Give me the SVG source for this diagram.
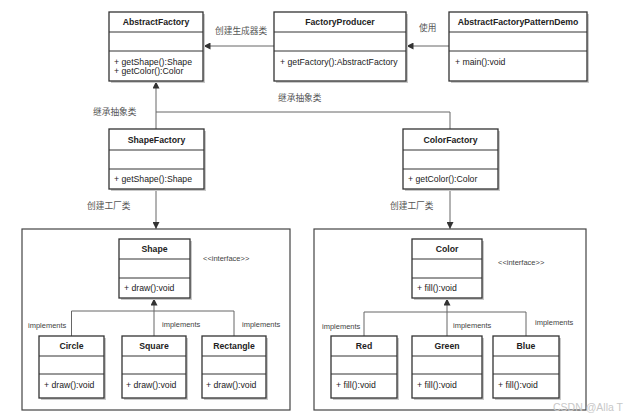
<svg xmlns="http://www.w3.org/2000/svg" width="630" height="418" viewBox="0 0 630 418">
<defs>
<style>
.bx{fill:#fff;stroke:#333;stroke-width:1.3}
.sh{fill:#c9c9c9}
.dv{stroke:#333;stroke-width:1}
.t{font-family:"Liberation Sans",Arial,sans-serif;font-size:8.7px;font-weight:bold;fill:#222;text-anchor:middle}
.m{font-family:"Liberation Sans",Arial,sans-serif;font-size:8.7px;fill:#222}
.lb{font-family:"Liberation Sans","Noto Sans CJK SC",sans-serif;font-size:8.7px;fill:#555}
.sm{font-family:"Liberation Sans",Arial,sans-serif;font-size:7.5px;fill:#444}
.ln{fill:none;stroke:#666;stroke-width:1}
.pk{fill:none;stroke:#444;stroke-width:1.2}
</style>
<marker id="ah" viewBox="0 0 10 10" refX="10" refY="5" markerWidth="7" markerHeight="7" markerUnits="userSpaceOnUse" orient="auto">
<path d="M0,0 L10,5 L0,10 z" fill="#333"/>
</marker>
</defs>
<rect width="630" height="418" fill="#fff"/>

<g id="packages">
<rect class="pk" x="22" y="229" width="268" height="181"/>
<rect class="pk" x="314" y="229" width="272" height="181"/>
</g>

<g id="connectors">
<line class="ln" x1="274" y1="46" x2="203.5" y2="46" marker-end="url(#ah)"/>
<line class="ln" x1="449" y1="46" x2="406.5" y2="46" marker-end="url(#ah)"/>
<path class="ln" d="M156,129 V81.5" marker-end="url(#ah)"/>
<path class="ln" d="M156,112 H450 V129"/>
<line class="ln" x1="156" y1="189" x2="156" y2="229" marker-end="url(#ah)"/>
<line class="ln" x1="450" y1="189" x2="450" y2="229" marker-end="url(#ah)"/>
<path class="ln" d="M154,336 V298.5" marker-end="url(#ah)"/>
<path class="ln" d="M71.5,336 V311 H234 V336"/>
<path class="ln" d="M447,336 V298.5" marker-end="url(#ah)"/>
<path class="ln" d="M364,336 V312 H526 V336"/>
</g>

<g id="labels">
<text class="lb" x="215" y="34">创建生成器类</text>
<text class="lb" x="419" y="31">使用</text>
<text class="lb" x="93" y="115">继承抽象类</text>
<text class="lb" x="278" y="101">继承抽象类</text>
<text class="lb" x="87" y="209">创建工厂类</text>
<text class="lb" x="390" y="209">创建工厂类</text>
<text class="sm" x="203" y="261">&lt;&lt;interface&gt;&gt;</text>
<text class="sm" x="498" y="265">&lt;&lt;interface&gt;&gt;</text>
<text class="sm" x="28" y="328">implements</text>
<text class="sm" x="162" y="327">implements</text>
<text class="sm" x="242" y="327">implements</text>
<text class="sm" x="322" y="329">implements</text>
<text class="sm" x="453" y="328">implements</text>
<text class="sm" x="535" y="325">implements</text>
</g>

<g id="AbstractFactory">
<rect class="sh" x="111" y="14" width="94" height="69"/>
<rect class="bx" x="109" y="12" width="94" height="69"/>
<line class="dv" x1="109" y1="32" x2="203" y2="32"/>
<line class="dv" x1="109" y1="51" x2="203" y2="51"/>
<text class="t" x="156" y="25">AbstractFactory</text>
<text class="m" x="114" y="65">+ getShape():Shape</text>
<text class="m" x="114" y="74">+ getColor():Color</text>
</g>

<g id="FactoryProducer">
<rect class="sh" x="276" y="14" width="132" height="69"/>
<rect class="bx" x="274" y="12" width="132" height="69"/>
<line class="dv" x1="274" y1="32" x2="406" y2="32"/>
<line class="dv" x1="274" y1="51" x2="406" y2="51"/>
<text class="t" x="340" y="25">FactoryProducer</text>
<text class="m" x="280" y="65">+ getFactory():AbstractFactory</text>
</g>

<g id="AbstractFactoryPatternDemo">
<rect class="sh" x="451" y="14" width="138" height="69"/>
<rect class="bx" x="449" y="12" width="138" height="69"/>
<line class="dv" x1="449" y1="32" x2="587" y2="32"/>
<line class="dv" x1="449" y1="51" x2="587" y2="51"/>
<text class="t" x="518" y="25">AbstractFactoryPatternDemo</text>
<text class="m" x="455" y="65">+ main():void</text>
</g>

<g id="ShapeFactory">
<rect class="sh" x="111" y="131" width="95" height="60"/>
<rect class="bx" x="109" y="129" width="95" height="60"/>
<line class="dv" x1="109" y1="150" x2="204" y2="150"/>
<line class="dv" x1="109" y1="169" x2="204" y2="169"/>
<text class="t" x="156.5" y="143">ShapeFactory</text>
<text class="m" x="114" y="182">+ getShape():Shape</text>
</g>

<g id="ColorFactory">
<rect class="sh" x="405" y="131" width="95" height="60"/>
<rect class="bx" x="403" y="129" width="95" height="60"/>
<line class="dv" x1="403" y1="150" x2="498" y2="150"/>
<line class="dv" x1="403" y1="169" x2="498" y2="169"/>
<text class="t" x="450.5" y="143">ColorFactory</text>
<text class="m" x="408" y="182">+ getColor():Color</text>
</g>

<g id="Shape">
<rect class="sh" x="121" y="241" width="71" height="59"/>
<rect class="bx" x="119" y="239" width="71" height="59"/>
<line class="dv" x1="119" y1="259" x2="190" y2="259"/>
<line class="dv" x1="119" y1="278" x2="190" y2="278"/>
<text class="t" x="154.5" y="252">Shape</text>
<text class="m" x="124" y="291">+ draw():void</text>
</g>

<g id="Circle">
<rect class="sh" x="41" y="338" width="65" height="62"/>
<rect class="bx" x="39" y="336" width="65" height="62"/>
<line class="dv" x1="39" y1="356" x2="104" y2="356"/>
<line class="dv" x1="39" y1="374" x2="104" y2="374"/>
<text class="t" x="71.5" y="349">Circle</text>
<text class="m" x="44" y="388">+ draw():void</text>
</g>

<g id="Square">
<rect class="sh" x="124" y="338" width="64" height="62"/>
<rect class="bx" x="122" y="336" width="64" height="62"/>
<line class="dv" x1="122" y1="356" x2="186" y2="356"/>
<line class="dv" x1="122" y1="374" x2="186" y2="374"/>
<text class="t" x="154" y="349">Square</text>
<text class="m" x="126" y="388">+ draw():void</text>
</g>

<g id="Rectangle">
<rect class="sh" x="204" y="338" width="64" height="62"/>
<rect class="bx" x="202" y="336" width="64" height="62"/>
<line class="dv" x1="202" y1="356" x2="266" y2="356"/>
<line class="dv" x1="202" y1="374" x2="266" y2="374"/>
<text class="t" x="234" y="349">Rectangle</text>
<text class="m" x="206" y="388">+ draw():void</text>
</g>

<g id="Color">
<rect class="sh" x="414" y="241" width="70" height="59"/>
<rect class="bx" x="412" y="239" width="70" height="59"/>
<line class="dv" x1="412" y1="259" x2="482" y2="259"/>
<line class="dv" x1="412" y1="278" x2="482" y2="278"/>
<text class="t" x="447" y="252">Color</text>
<text class="m" x="417" y="291">+ fill():void</text>
</g>

<g id="Red">
<rect class="sh" x="333" y="338" width="66" height="62"/>
<rect class="bx" x="331" y="336" width="66" height="62"/>
<line class="dv" x1="331" y1="356" x2="397" y2="356"/>
<line class="dv" x1="331" y1="374" x2="397" y2="374"/>
<text class="t" x="364" y="349">Red</text>
<text class="m" x="336" y="388">+ fill():void</text>
</g>

<g id="Green">
<rect class="sh" x="414" y="338" width="70" height="62"/>
<rect class="bx" x="412" y="336" width="70" height="62"/>
<line class="dv" x1="412" y1="356" x2="482" y2="356"/>
<line class="dv" x1="412" y1="374" x2="482" y2="374"/>
<text class="t" x="447" y="349">Green</text>
<text class="m" x="417" y="388">+ fill():void</text>
</g>

<g id="Blue">
<rect class="sh" x="495" y="338" width="66" height="62"/>
<rect class="bx" x="493" y="336" width="66" height="62"/>
<line class="dv" x1="493" y1="356" x2="559" y2="356"/>
<line class="dv" x1="493" y1="374" x2="559" y2="374"/>
<text class="t" x="526" y="349">Blue</text>
<text class="m" x="498" y="388">+ fill():void</text>
</g>

<text x="553" y="411" font-family="Liberation Sans,Arial,sans-serif" font-size="10.5" fill="#c8c8c8">CSDN @Alla  T</text>
</svg>
